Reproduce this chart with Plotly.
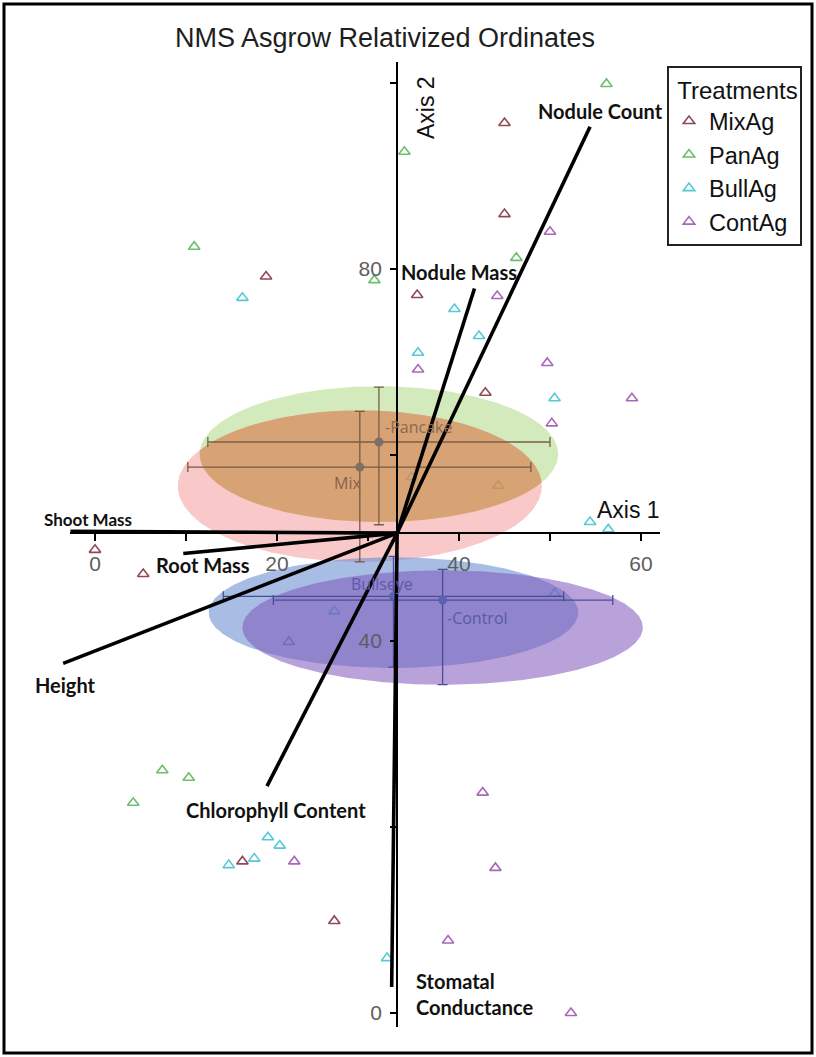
import numpy as np
import plotly.graph_objects as go

# ---- page geometry (figure is drawn with zero margins) ----
FIG_W, FIG_H = 816, 1057
X0_PX, X_SCALE = 95.0, 9.1      # pixel of axis-1 value 0, pixels per unit
Y0_PX, Y_SCALE = 1013.0, 9.3    # pixel of axis-2 value 0, pixels per unit

# ---- treatment scores on NMS axis 1 / axis 2 ----
mix_x = [45.0, 45.0, 18.8, 35.4, 42.9, 0.0, 5.3, 16.2, 26.3]
mix_y = [95.7, 85.9, 79.2, 77.2, 66.7, 49.8, 47.2, 16.3, 9.9]
pan_x = [56.2, 34.0, 10.9, 46.3, 30.7, 44.3, 7.4, 10.3, 4.2]
pan_y = [99.9, 92.6, 82.4, 81.2, 78.8, 56.7, 26.1, 25.3, 22.6]
bull_x = [16.2, 39.5, 42.2, 35.5, 50.5, 54.4, 56.4, 34.8, 50.5, 26.3, 19.0, 20.3, 17.5, 14.7, 32.1]
bull_y = [76.9, 75.7, 72.8, 71.0, 66.1, 52.8, 52.0, 57.6, 45.1, 43.2, 18.9, 18.0, 16.6, 15.9, 5.9]
cont_x = [50.0, 44.2, 49.7, 35.5, 59.0, 50.2, 21.3, 42.6, 21.9, 44.0, 38.8, 52.3]
cont_y = [84.0, 77.1, 69.9, 69.2, 66.1, 63.4, 39.9, 23.7, 16.3, 15.6, 7.8, 0.0]

treatment_names = ["MixAg", "PanAg", "BullAg", "ContAg"]

# ---- group centroids, spread bars and confidence ellipses ----
group_names = ["Pancake", "Mix", "Bullseye", "Control"]
centroid_x = [31.2, 29.1, 32.8, 38.2]
centroid_y = [61.4, 58.7, 44.8, 44.4]
bar_x_lo = [12.4, 10.2, 14.1, 19.6]
bar_x_hi = [50.0, 47.9, 51.5, 56.9]
bar_y_lo = [52.5, 48.5, 37.2, 35.3]
bar_y_hi = [67.3, 64.7, 49.1, 47.7]
ellipse_x_lo = [11.5, 9.1, 12.5, 16.2]
ellipse_x_hi = [50.9, 49.1, 53.1, 60.2]
ellipse_y_lo = [52.8, 48.5, 37.1, 35.3]
ellipse_y_hi = [67.4, 64.8, 49.0, 47.6]

# ---- joint-plot vectors (drawn from the axis crossing) ----
axis_cross_x = 33.2
axis_cross_y = 51.6
vector_names = ["Nodule Count", "Nodule Mass", "Shoot Mass", "Root Mass",
                "Height", "Chlorophyll Content", "Stomatal<br>Conductance"]
vector_x = [54.4, 41.7, -2.7, 9.7, -3.5, 18.9, 32.6]
vector_y = [95.3, 77.9, 51.8, 49.4, 37.6, 24.4, 2.8]

# ---- axis ticks ----
x_tick_vals = [0, 10, 20, 30, 40, 50, 60]
x_tick_text = ["0", "", "20", "", "40", "", "60"]
y_tick_vals = [0, 20, 40, 60, 80, 100]
y_tick_text = ["0", "", "40", "", "80", ""]

# ---------------- styling ----------------
treat_colors = ["#8e4a55", "#6cbf6c", "#55c9d4", "#a868b8"]
ellipse_fill = ["rgba(150,205,95,0.42)", "rgba(240,120,120,0.40)",
                "rgba(95,135,205,0.55)", "rgba(125,85,185,0.55)"]
overlap_fill = "rgba(208,137,74,0.5)"   # Pancake/Mix shared area
bar_color = ["#7a5f48", "#7a5844", "#4c4c96", "#4c4c96"]
centroid_color = ["#7d6e66", "#7d6e66", "#5a62b4", "#5a62b4"]
label_color = ["#8a6a52", "#8a6048", "#5a5aa6", "#5a5aa6"]
# label placement relative to centroid: (xanchor, xshift, yshift)
group_label_pos = [("left", 4, 15), ("right", 3, -16), ("center", -11, 12), ("left", 2, -18)]
group_label_text = ["-Pancake", "Mix", "Bullseye", "-Control"]
# vector label placement relative to the vector tip: (xanchor, xshift, yshift, size)
vector_label_pos = [("center", 10, 16, 20), ("center", -15, 17, 20), ("center", 18, 12, 17),
                    ("center", 20, -11, 20), ("center", 2, -22, 20), ("center", 9, -24, 20),
                    ("left", 22, -7, 20)]


def px_to_x(p):
    return (p - X0_PX) / X_SCALE


def py_to_y(p):
    return (Y0_PX - p) / Y_SCALE


def ellipse_geom(i):
    cx = (ellipse_x_lo[i] + ellipse_x_hi[i]) / 2
    cy = (ellipse_y_lo[i] + ellipse_y_hi[i]) / 2
    rx = (ellipse_x_hi[i] - ellipse_x_lo[i]) / 2
    ry = (ellipse_y_hi[i] - ellipse_y_lo[i]) / 2
    return cx, cy, rx, ry


def ellipse_outline(i, n=361):
    cx, cy, rx, ry = ellipse_geom(i)
    t = np.linspace(0, 2 * np.pi, n)
    return cx + rx * np.cos(t), cy + ry * np.sin(t)


def inside(x, y, i):
    cx, cy, rx, ry = ellipse_geom(i)
    return ((x - cx) / rx) ** 2 + ((y - cy) / ry) ** 2 <= 1.0


def overlap_outline(i, j):
    xa, ya = ellipse_outline(i)
    xb, yb = ellipse_outline(j)
    ka, kb = inside(xa, ya, j), inside(xb, yb, i)
    xs = np.concatenate([xa[ka], xb[kb]])
    ys = np.concatenate([ya[ka], yb[kb]])
    mx, my = xs.mean(), ys.mean()
    order = np.argsort(np.arctan2((ys - my) * Y_SCALE, (xs - mx) * X_SCALE))
    xs, ys = xs[order], ys[order]
    return np.append(xs, xs[0]), np.append(ys, ys[0])


fig = go.Figure()

# sample scores
for name, xs, ys, col in zip(treatment_names, [mix_x, pan_x, bull_x, cont_x],
                             [mix_y, pan_y, bull_y, cont_y], treat_colors):
    fig.add_trace(go.Scatter(
        x=xs, y=ys, mode="markers", name=name,
        marker=dict(symbol="triangle-up-open", size=10, color=col,
                    line=dict(width=1.6, color=col)),
        hoverinfo="skip", cliponaxis=False))

# group ellipses (semi-transparent, over the sample scores)
for i in range(len(group_names)):
    ex, ey = ellipse_outline(i)
    fig.add_trace(go.Scatter(
        x=ex, y=ey, mode="lines", fill="toself", fillcolor=ellipse_fill[i],
        line=dict(width=0), showlegend=False, hoverinfo="skip"))

ox, oy = overlap_outline(0, 1)
fig.add_trace(go.Scatter(x=ox, y=oy, mode="lines", fill="toself",
                         fillcolor=overlap_fill, line=dict(width=0),
                         showlegend=False, hoverinfo="skip"))

# group centroids with spread bars
for i, g in enumerate(group_names):
    fig.add_trace(go.Scatter(
        x=[centroid_x[i]], y=[centroid_y[i]], mode="markers", showlegend=False,
        marker=dict(symbol="circle", size=9, color=centroid_color[i]),
        error_x=dict(type="data", symmetric=False,
                     array=[bar_x_hi[i] - centroid_x[i]],
                     arrayminus=[centroid_x[i] - bar_x_lo[i]],
                     color=bar_color[i], thickness=1.3, width=5),
        error_y=dict(type="data", symmetric=False,
                     array=[bar_y_hi[i] - centroid_y[i]],
                     arrayminus=[centroid_y[i] - bar_y_lo[i]],
                     color=bar_color[i], thickness=1.3, width=5),
        hoverinfo="skip"))
    xa, xs_, ys_ = group_label_pos[i]
    fig.add_annotation(x=centroid_x[i], y=centroid_y[i], text=group_label_text[i],
                       showarrow=False, xanchor=xa, yanchor="middle",
                       xshift=xs_, yshift=ys_,
                       font=dict(family="Open Sans", size=16, color=label_color[i]))

# joint-plot vectors
for i, v in enumerate(vector_names):
    fig.add_trace(go.Scatter(
        x=[axis_cross_x, vector_x[i]], y=[axis_cross_y, vector_y[i]],
        mode="lines", line=dict(color="black", width=3.6),
        showlegend=False, hoverinfo="skip", cliponaxis=False))
    xa, xs_, ys_, fs = vector_label_pos[i]
    fig.add_annotation(x=vector_x[i], y=vector_y[i], text="<b>" + v + "</b>",
                       showarrow=False, xanchor=xa, yanchor="middle", align="left",
                       xshift=xs_, yshift=ys_,
                       font=dict(family="Lato", size=fs, color="#111111"))

# empty trace that carries the crossing ordination axes
fig.add_trace(go.Scatter(x=[], y=[], xaxis="x2", yaxis="y2",
                         showlegend=False, hoverinfo="skip"))

x_line_px = (70, 660)
y_line_px = (62, 1027)
axis_font = dict(family="Liberation Sans", size=21, color="#5e5e5e")

fig.update_layout(
    width=FIG_W, height=FIG_H,
    margin=dict(l=0, r=0, t=0, b=0),
    paper_bgcolor="white", plot_bgcolor="rgba(0,0,0,0)",
    title=dict(text="NMS Asgrow Relativized Ordinates",
               x=385 / FIG_W, y=1 - 38 / FIG_H, xanchor="center", yanchor="middle",
               font=dict(family="Liberation Sans", size=27, color="#1e1e1e")),
    xaxis=dict(domain=[0, 1], range=[px_to_x(0), px_to_x(FIG_W)], visible=False),
    yaxis=dict(domain=[0, 1], range=[py_to_y(FIG_H), py_to_y(0)], visible=False),
    xaxis2=dict(domain=[x_line_px[0] / FIG_W, x_line_px[1] / FIG_W],
                range=[px_to_x(x_line_px[0]), px_to_x(x_line_px[1])],
                anchor="free", position=1 - (Y0_PX - axis_cross_y * Y_SCALE) / FIG_H,
                showline=True, linecolor="black", linewidth=2,
                ticks="outside", ticklen=7, tickwidth=1.5, tickcolor="black",
                tickvals=x_tick_vals, ticktext=x_tick_text, tickfont=axis_font,
                ticklabelstandoff=5, showgrid=False, zeroline=False),
    yaxis2=dict(domain=[1 - y_line_px[1] / FIG_H, 1 - y_line_px[0] / FIG_H],
                range=[py_to_y(y_line_px[1]), py_to_y(y_line_px[0])],
                anchor="free", position=(X0_PX + axis_cross_x * X_SCALE) / FIG_W,
                showline=True, linecolor="black", linewidth=2,
                ticks="outside", ticklen=6, tickwidth=1.5, tickcolor="black",
                tickvals=y_tick_vals, ticktext=y_tick_text, tickfont=axis_font,
                ticklabelstandoff=4, showgrid=False, zeroline=False),
    legend=dict(x=667 / FIG_W, y=1 - 66 / FIG_H, xanchor="left", yanchor="top",
                bgcolor="white", bordercolor="#222222", borderwidth=2,
                font=dict(family="Liberation Sans", size=23.5, color="#111111"),
                title=dict(text=" Treatments",
                           font=dict(family="Liberation Sans", size=24, color="#111111"))),
    showlegend=True,
)

# axis titles
fig.add_annotation(xref="paper", yref="paper", x=628 / FIG_W, y=1 - 510 / FIG_H,
                   xanchor="center", yanchor="middle",
                   text="Axis 1", showarrow=False,
                   font=dict(family="Liberation Sans", size=23, color="#111111"))
fig.add_annotation(xref="paper", yref="paper", x=426 / FIG_W, y=1 - 108 / FIG_H,
                   xanchor="center", yanchor="middle",
                   text="Axis 2", showarrow=False, textangle=-90,
                   font=dict(family="Liberation Sans", size=23, color="#111111"))

# outer frame
fig.add_shape(type="rect", xref="paper", yref="paper",
              x0=4 / FIG_W, x1=812 / FIG_W, y0=1 - 1053 / FIG_H, y1=1 - 4 / FIG_H,
              line=dict(color="black", width=3), fillcolor="rgba(0,0,0,0)")

fig.write_html("out.html")
